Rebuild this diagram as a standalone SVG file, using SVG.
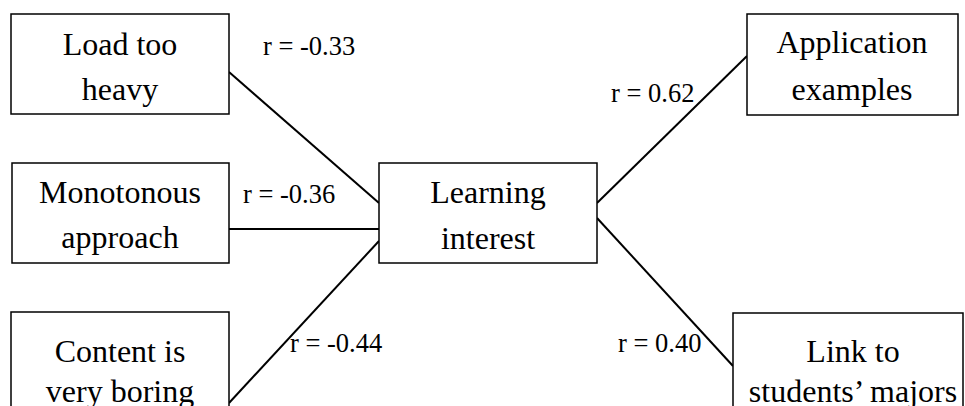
<svg xmlns="http://www.w3.org/2000/svg" width="965" height="406" viewBox="0 0 965 406">
<style>
.box{fill:#fff;stroke:#000;stroke-width:1.5}
.t{font-family:'Liberation Serif','Tinos','Times New Roman','DejaVu Serif',serif;font-size:32px;fill:#000;text-anchor:middle}
.r{font-family:'Liberation Serif','Tinos','Times New Roman','DejaVu Serif',serif;font-size:26.5px;fill:#000}
.c line{stroke:#000;stroke-width:2}
</style>
<rect width="965" height="406" fill="#fff"/>
<g class="c" id="connectors">
<line x1="229" y1="72" x2="379" y2="203"/>
<line x1="229" y1="229" x2="379" y2="229"/>
<line x1="229" y1="403" x2="379" y2="241"/>
<line x1="597" y1="203" x2="747" y2="56"/>
<line x1="597" y1="218" x2="733" y2="366"/>
</g>
<g id="load">
<rect class="box" x="11" y="14" width="218" height="100"/>
<text class="t" x="120" y="55">Load too</text>
<text class="t" x="120" y="100">heavy</text>
</g>
<g id="mono">
<rect class="box" x="12" y="163" width="217" height="100"/>
<text class="t" x="120" y="203">Monotonous</text>
<text class="t" x="120" y="248">approach</text>
</g>
<g id="boring">
<rect class="box" x="11" y="312" width="218" height="110"/>
<text class="t" x="120" y="362">Content is</text>
<text class="t" x="120" y="402">very boring</text>
</g>
<g id="learning">
<rect class="box" x="379" y="163" width="218" height="100"/>
<text class="t" x="488" y="203">Learning</text>
<text class="t" x="488" y="249">interest</text>
</g>
<g id="application">
<rect class="box" x="747" y="14" width="211" height="101"/>
<text class="t" x="852" y="53">Application</text>
<text class="t" x="852" y="100">examples</text>
</g>
<g id="link">
<rect class="box" x="733" y="313" width="230" height="110"/>
<text class="t" x="853" y="362">Link to</text>
<text class="t" x="853" y="402">students’ majors</text>
</g>
<g id="labels">
<text class="r" x="263" y="55">r = -0.33</text>
<text class="r" x="243" y="203">r = -0.36</text>
<text class="r" x="290" y="352">r = -0.44</text>
<text class="r" x="611" y="102">r = 0.62</text>
<text class="r" x="618" y="352">r = 0.40</text>
</g>
</svg>
